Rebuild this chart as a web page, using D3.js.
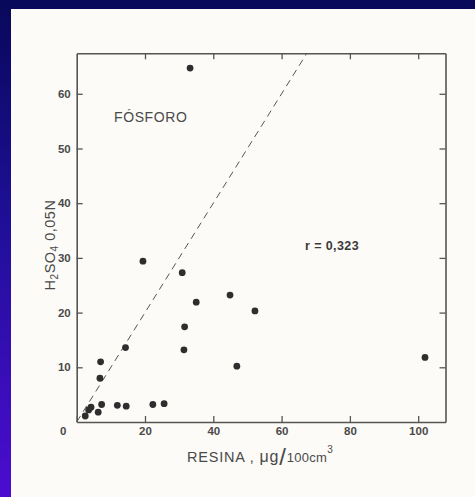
<!DOCTYPE html>
<meta charset="utf-8">
<style>
body { margin: 0; background: #0a0a5c; }
svg { display: block; }
.tick text { font: bold 11.5px Arial, "Liberation Sans", sans-serif; fill: #4a4a4a; }
.axis path, .axis line { stroke: #555; }
</style>
<body>
<script src="https://cdn.jsdelivr.net/npm/d3@7"></script>
<script>

// resina (x) and H2SO4 0,05N (y)
var resina = [2.5, 3.5, 4.2, 6.3, 7.3, 6.8, 7.0, 11.9, 14.5, 14.3, 19.4, 22.3, 25.6,
              30.9, 31.6, 31.4, 33.2, 35.0, 44.9, 46.9, 52.2, 102];
var acido  = [1.1, 2.2, 2.7, 1.8, 3.2, 8.0, 11.0, 3.05, 2.9, 13.6, 29.4, 3.2, 3.35,
              27.3, 17.4, 13.2, 64.7, 21.9, 23.2, 10.2, 20.3, 11.8];
var xTicks = [0, 20, 40, 60, 80, 100];
var yTicks = [10, 20, 30, 40, 50, 60];
var xMax = 108, yMax = 67.4;
var rLabel = "r = 0,323";

var W = 475, H = 497;
// plot frame edges (note: "top" is reserved on window, so use frame.*)
var frame = { left: 76.7, right: 445.5, top: 53.3, bottom: 422 };

var svg = d3.select("body").append("svg")
  .attr("width", W).attr("height", H);

// blue slide background
var grad = svg.append("defs").append("linearGradient")
  .attr("id", "bg").attr("x1", 0).attr("y1", 0).attr("x2", 0).attr("y2", 1);
grad.append("stop").attr("offset", "0%").attr("stop-color", "#08085a");
grad.append("stop").attr("offset", "45%").attr("stop-color", "#1f0f98");
grad.append("stop").attr("offset", "100%").attr("stop-color", "#4c0cd0");
svg.append("rect").attr("width", W).attr("height", H).attr("fill", "url(#bg)");

// paper
svg.append("rect").attr("x", 11).attr("y", 9)
  .attr("width", W - 11).attr("height", H - 9).attr("fill", "#fcfbf7");

var x = d3.scaleLinear().domain([0, xMax]).range([frame.left, frame.right]);
var y = d3.scaleLinear().domain([0, yMax]).range([frame.bottom, frame.top]);

// axes, ticks pointing inward
var gx = svg.append("g").attr("class", "axis")
  .attr("transform", "translate(0," + frame.bottom + ")")
  .call(d3.axisBottom(x).tickValues(xTicks).tickSizeInner(-6).tickSizeOuter(0).tickPadding(5));
gx.selectAll(".tick").filter(function(d) { return d === 0; })
  .select("text").attr("x", -14);

svg.append("g").attr("class", "axis")
  .attr("transform", "translate(" + frame.left + ",0)")
  .call(d3.axisLeft(y).tickValues(yTicks).tickSizeInner(-6).tickSizeOuter(0).tickPadding(6));

svg.append("g").attr("class", "axis")
  .attr("transform", "translate(0," + frame.top + ")")
  .call(d3.axisTop(x).tickValues(xTicks.slice(1)).tickSizeInner(-6).tickSizeOuter(0).tickFormat(""));

svg.append("g").attr("class", "axis")
  .attr("transform", "translate(" + frame.right + ",0)")
  .call(d3.axisRight(y).tickValues(yTicks).tickSizeInner(-6).tickSizeOuter(0).tickFormat(""));

svg.selectAll(".axis path").attr("stroke-width", 1.6);
svg.selectAll(".axis line").attr("stroke-width", 1.3);

// 1:1 line
svg.append("line")
  .attr("x1", x(0)).attr("y1", y(0))
  .attr("x2", x(yMax)).attr("y2", y(yMax))
  .attr("stroke", "#555").attr("stroke-width", 1)
  .attr("stroke-dasharray", "7,5");

// points
svg.selectAll(".pt").data(resina).enter().append("circle")
  .attr("class", "pt")
  .attr("cx", function(d) { return x(d); })
  .attr("cy", function(d, i) { return y(acido[i]); })
  .attr("r", 3.4)
  .attr("fill", "#2e2e2e");

// texts
svg.append("text").attr("x", 114).attr("y", 122)
  .style("font", "14px Arial, sans-serif").style("letter-spacing", "0.6px")
  .attr("fill", "#4a4a4a").text("FÓSFORO");

svg.append("text").attr("x", 305).attr("y", 250)
  .style("font", "bold 12.5px Arial, sans-serif").style("letter-spacing", "0.4px")
  .attr("fill", "#3a3a3a").text(rLabel);

var yl = svg.append("text")
  .attr("transform", "translate(55,245) rotate(-90)")
  .attr("text-anchor", "middle")
  .style("font", "14.5px Arial, sans-serif")
  .style("letter-spacing", "0.5px")
  .attr("fill", "#4a4a4a");
yl.append("tspan").text("H");
yl.append("tspan").attr("dy", 3).style("font-size", "10px").text("2");
yl.append("tspan").attr("dy", -3).text("SO");
yl.append("tspan").attr("dy", 3).style("font-size", "10px").text("4");
yl.append("tspan").attr("dy", -3).text(" 0,05N");

var xl = svg.append("text").attr("x", 187).attr("y", 462)
  .style("font", "14.5px Arial, sans-serif")
  .style("letter-spacing", "0.8px")
  .attr("fill", "#4a4a4a");
xl.append("tspan").text("RESINA ,  ");
xl.append("tspan").style("font-size", "16px").text("μg");
xl.append("tspan").style("font-size", "24px").attr("dy", 3).text("/");
xl.append("tspan").attr("dy", -3).style("font-size", "13px").style("letter-spacing", "0.3px").text("100cm");
xl.append("tspan").attr("dy", -9).style("font-size", "10px").text("3");
</script>
</body>
